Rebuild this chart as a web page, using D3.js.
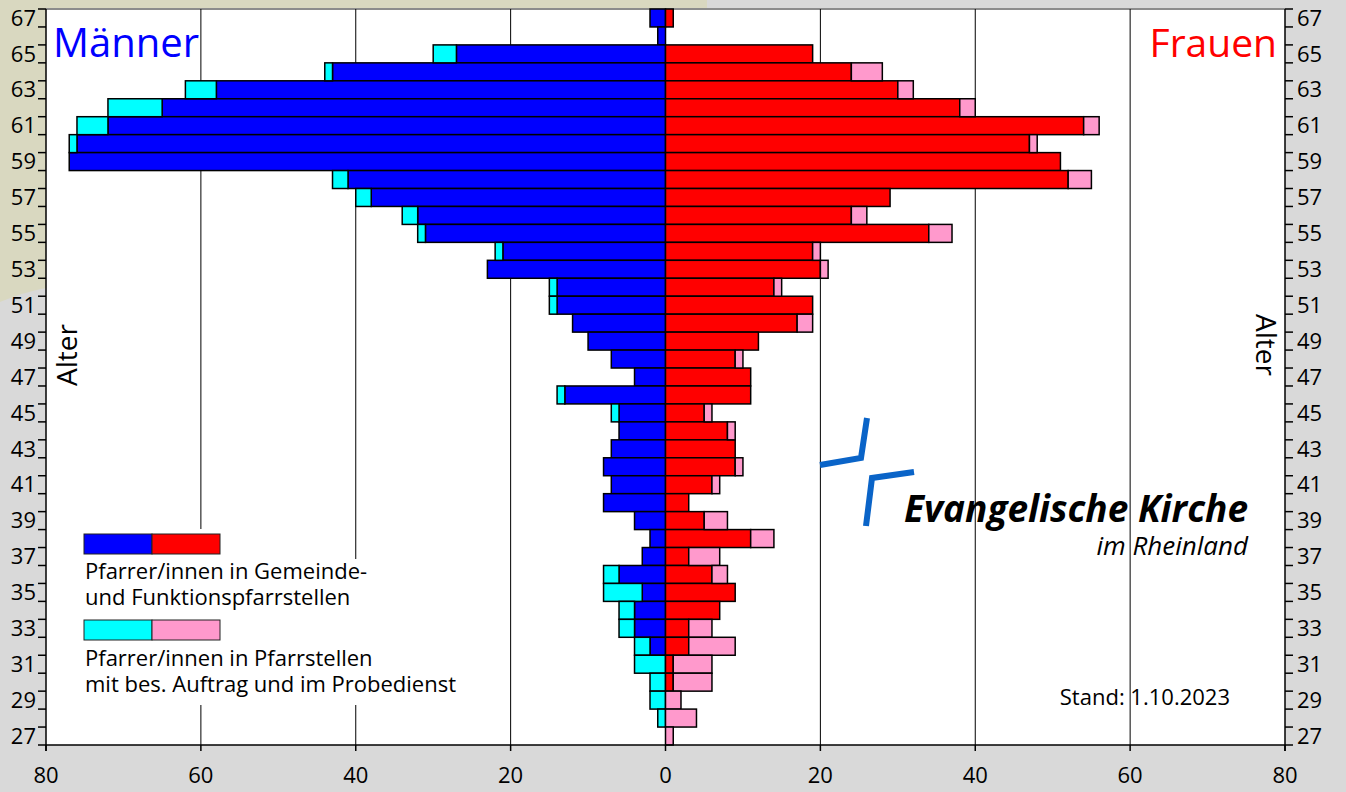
<!DOCTYPE html>
<html>
<head>
<meta charset="utf-8">
<script src="https://cdn.jsdelivr.net/npm/d3@7"></script>
<style>
  body { margin: 0; background: #d9d9d9; }
  svg { display: block; font-family: "Open Sans", "Noto Sans", sans-serif; }
</style>
</head>
<body>
<div id="chart"></div>
<script>
// ages from top to bottom
var ages = d3.range(67, 26, -1);

// Pfarrer/innen in Gemeinde- und Funktionspfarrstellen
var menMain   = [2, 1, 27, 43, 58, 65, 72, 76, 77, 41, 38, 32, 31, 21, 23, 14, 14, 12, 10, 7, 4,
                 13, 6, 6, 7, 8, 7, 8, 4, 2, 3, 6, 3, 4, 4, 2, 0, 0, 0, 0, 0];
var womenMain = [1, 0, 19, 24, 30, 38, 54, 47, 51, 52, 29, 24, 34, 19, 20, 14, 19, 17, 12, 9, 11,
                 11, 5, 8, 9, 9, 6, 3, 5, 11, 3, 6, 9, 7, 3, 3, 1, 1, 0, 0, 0];

// Pfarrer/innen in Pfarrstellen mit bes. Auftrag und im Probedienst
var menOther   = [0, 0, 3, 1, 4, 7, 4, 1, 0, 2, 2, 2, 1, 1, 0, 1, 1, 0, 0, 0, 0,
                  1, 1, 0, 0, 0, 0, 0, 0, 0, 0, 2, 5, 2, 2, 2, 4, 2, 2, 1, 0];
var womenOther = [0, 0, 0, 4, 2, 2, 2, 1, 0, 3, 0, 2, 3, 1, 1, 1, 0, 2, 0, 1, 0,
                  0, 1, 1, 0, 1, 1, 0, 3, 3, 4, 2, 0, 0, 3, 6, 5, 5, 2, 4, 1];

var xTicks = [-80, -60, -40, -20, 0, 20, 40, 60, 80];
var ageLabels = d3.range(67, 26, -2);

var legendLines = [
  ["Pfarrer/innen in Gemeinde-", "und Funktionspfarrstellen"],
  ["Pfarrer/innen in Pfarrstellen", "mit bes. Auftrag und im Probedienst"]
];

var colors = {blue: "#0000ff", red: "#ff0000", cyan: "#00ffff", pink: "#ff99cc"};

var width = 1346, height = 792;
var plot = {left: 46, right: 1285, top: 9, bottom: 745};

var svg = d3.select("#chart").append("svg")
  .attr("width", width)
  .attr("height", height);

// background pieces
svg.append("rect").attr("width", width).attr("height", height).attr("fill", "#d9d9d9");
svg.append("path")
  .attr("d", "M0,0 H707 V9 H46 V288 Q24,292 0,302 Z")
  .attr("fill", "#d9d8c0");

svg.append("rect")
  .attr("x", plot.left).attr("y", plot.top)
  .attr("width", plot.right - plot.left).attr("height", plot.bottom - plot.top)
  .attr("fill", "#fff");
svg.append("line")
  .attr("x1", plot.left).attr("x2", plot.right)
  .attr("y1", plot.top).attr("y2", plot.top)
  .attr("stroke", "#8c8c8c").attr("stroke-width", 2);

var x = d3.scaleLinear().domain([-80, 80]).range([plot.left, plot.right]);
var y = d3.scaleBand().domain(ages).range([plot.top, plot.bottom]).padding(0);

// grid lines
svg.append("g").selectAll("line")
  .data(xTicks.filter(function(d) { return Math.abs(d) != 80 && d != 0; }))
  .enter().append("line")
  .attr("x1", function(d) { return x(d); })
  .attr("x2", function(d) { return x(d); })
  .attr("y1", plot.top).attr("y2", plot.bottom)
  .attr("stroke", "#000").attr("stroke-width", 1);

// legend backgrounds hide the grid behind them
var lg = svg.append("g");
lg.append("rect").attr("x", 80).attr("y", 529).attr("width", 148).attr("height", 176).attr("fill", "#fff");
lg.append("rect").attr("x", 80).attr("y", 559).attr("width", 390).attr("height", 146).attr("fill", "#fff");

// logo
var logo = svg.append("g").attr("fill", "none").attr("stroke", "#0a64c8").attr("stroke-width", 6);
logo.append("polyline").attr("points", "820,465 861,458 867,418");
logo.append("polyline").attr("points", "914,472 872,478 866,526");
var logoText = svg.append("text").attr("text-anchor", "end").attr("font-style", "italic");
logoText.append("tspan")
  .attr("x", 1248).attr("y", 522)
  .attr("font-size", 37).attr("font-weight", "bold")
  .text("Evangelische Kirche");
logoText.append("tspan")
  .attr("x", 1248).attr("y", 555)
  .attr("font-size", 26)
  .text("im Rheinland");

// bars
var rows = ages.map(function(a, i) {
  return {age: a, mm: menMain[i], mo: menOther[i], wm: womenMain[i], wo: womenOther[i]};
});

function bars(cls, x0, x1, fill) {
  svg.append("g").selectAll("rect." + cls)
    .data(rows.filter(function(d) { return x1(d) != x0(d); }))
    .enter().append("rect")
    .attr("class", cls)
    .attr("x", function(d) { return Math.min(x(x0(d)), x(x1(d))); })
    .attr("y", function(d) { return y(d.age); })
    .attr("width", function(d) { return Math.abs(x(x1(d)) - x(x0(d))); })
    .attr("height", y.bandwidth())
    .attr("fill", fill)
    .attr("stroke", "#000")
    .attr("stroke-width", 1.5);
}

bars("mm", function(d) { return 0; }, function(d) { return -d.mm; }, colors.blue);
bars("mo", function(d) { return -d.mm; }, function(d) { return -d.mm - d.mo; }, colors.cyan);
bars("wm", function(d) { return 0; }, function(d) { return d.wm; }, colors.red);
bars("wo", function(d) { return d.wm; }, function(d) { return d.wm + d.wo; }, colors.pink);

// axes
var axisG = svg.append("g").attr("stroke", "#000").attr("stroke-width", 1.5);
axisG.append("line").attr("x1", plot.left).attr("x2", plot.left).attr("y1", plot.top).attr("y2", plot.bottom + 6);
axisG.append("line").attr("x1", plot.right).attr("x2", plot.right).attr("y1", plot.top).attr("y2", plot.bottom + 6);
axisG.append("line").attr("x1", plot.left).attr("x2", plot.right).attr("y1", plot.bottom).attr("y2", plot.bottom);

// row boundary ticks on both sides
var bounds = ages.map(function(a) { return y(a); }).concat([plot.bottom]);
axisG.selectAll("line.lt").data(bounds).enter().append("line")
  .attr("x1", plot.left - 8).attr("x2", plot.left)
  .attr("y1", function(d) { return d; }).attr("y2", function(d) { return d; });
axisG.selectAll("line.rt").data(bounds).enter().append("line")
  .attr("x1", plot.right).attr("x2", plot.right + 8)
  .attr("y1", function(d) { return d; }).attr("y2", function(d) { return d; });
axisG.selectAll("line.bt").data(xTicks).enter().append("line")
  .attr("x1", function(d) { return x(d); }).attr("x2", function(d) { return x(d); })
  .attr("y1", plot.bottom).attr("y2", plot.bottom + 6);

svg.append("g").selectAll("text")
  .data(xTicks).enter().append("text")
  .attr("x", function(d) { return x(d); })
  .attr("y", 783)
  .attr("text-anchor", "middle")
  .attr("font-size", 22)
  .text(function(d) { return Math.abs(d); });

svg.append("g").selectAll("text")
  .data(ageLabels).enter().append("text")
  .attr("x", 36)
  .attr("y", function(d) { return y(d) + y.bandwidth() / 2; })
  .attr("dy", "0.35em")
  .attr("text-anchor", "end")
  .attr("font-size", 22)
  .text(function(d) { return d; });

svg.append("g").selectAll("text")
  .data(ageLabels).enter().append("text")
  .attr("x", 1297)
  .attr("y", function(d) { return y(d) + y.bandwidth() / 2; })
  .attr("dy", "0.35em")
  .attr("font-size", 22)
  .text(function(d) { return d; });

// titles
svg.append("text").attr("x", 53).attr("y", 57).attr("font-size", 40).attr("fill", colors.blue).text("Männer");
svg.append("text").attr("x", 1277).attr("y", 57).attr("font-size", 39).attr("fill", colors.red)
  .attr("text-anchor", "end").text("Frauen");

svg.append("text")
  .attr("transform", "translate(77,355) rotate(-90)")
  .attr("text-anchor", "middle").attr("font-size", 28)
  .text("Alter");
svg.append("text")
  .attr("transform", "translate(1256,345) rotate(90)")
  .attr("text-anchor", "middle").attr("font-size", 28)
  .text("Alter");

// legend
var sw = [[colors.blue, colors.red], [colors.cyan, colors.pink]];
var swY = [534, 620], txtY = [[579, 605], [666, 692]];
sw.forEach(function(pair, i) {
  lg.append("rect").attr("x", 84).attr("y", swY[i]).attr("width", 68).attr("height", 20)
    .attr("fill", pair[0]).attr("stroke", "#222").attr("stroke-width", 1);
  lg.append("rect").attr("x", 152).attr("y", swY[i]).attr("width", 68).attr("height", 20)
    .attr("fill", pair[1]).attr("stroke", "#222").attr("stroke-width", 1);
  var t = lg.append("text").attr("font-size", 22);
  legendLines[i].forEach(function(line, j) {
    t.append("tspan").attr("x", 85).attr("y", txtY[i][j]).text(line);
  });
});

svg.append("text").attr("x", 1230).attr("y", 705).attr("text-anchor", "end")
  .attr("font-size", 22).text("Stand: 1.10.2023");
</script>
</body>
</html>
